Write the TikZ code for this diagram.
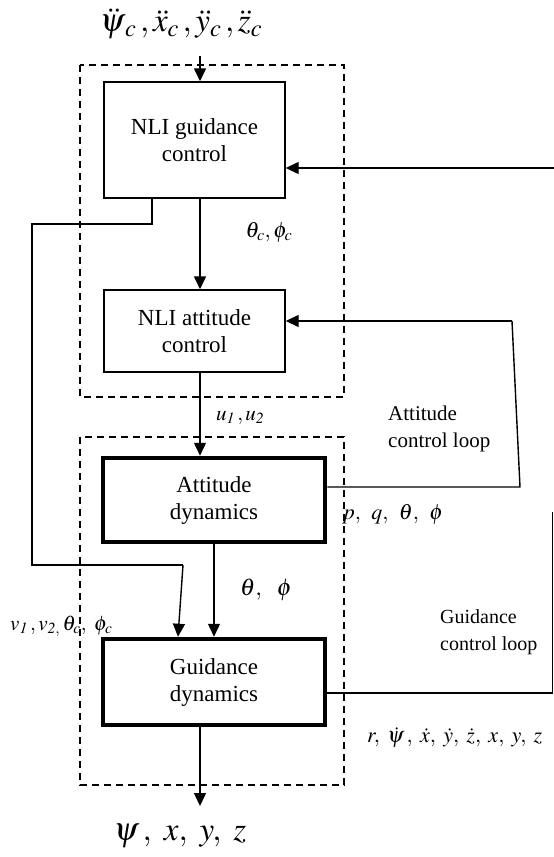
\documentclass[tikz,border=0pt]{standalone}
\usepackage{mathptmx}
\usepackage{fontspec}
\setmainfont{Liberation Serif}
\usetikzlibrary{arrows.meta,calc}
\begin{document}
\begin{tikzpicture}[x=1pt,y=-1pt,
  box/.style={draw,line width=1.4pt,align=center,font=\fontsize{23}{27}\selectfont},
  dynbox/.style={draw,line width=4.5pt,align=center,font=\fontsize{23}{27}\selectfont},
  grp/.style={draw,line width=1.3pt,dash pattern=on 7pt off 5pt},
  conn/.style={line width=1.4pt},
  arr/.style={line width=1.4pt,-{Triangle[length=13pt,width=12pt]}},
  lbl/.style={font=\fontsize{21}{27}\selectfont,inner sep=0pt},
  mlbl/.style={font=\fontsize{22}{26}\selectfont,inner sep=0pt},
  big/.style={font=\fontsize{33}{36}\selectfont,inner sep=0pt}]
\useasboundingbox (0,0) rectangle (554,857);
% group boxes
\draw[grp] (80,65) rectangle (344,397);
\draw[grp] (80,437) rectangle (344,785);
% blocks
\node[box,minimum width=181pt,minimum height=116pt] (ngc) at (194.5,140) {NLI guidance\\control};
\node[box,minimum width=181pt,minimum height=82pt] (nac) at (194.5,331) {NLI attitude\\control};
\node[dynbox,minimum width=222pt,minimum height=84pt] (ad) at (214,500) {Attitude\\dynamics};
\node[dynbox,minimum width=222pt,minimum height=86pt] (gd) at (214,682) {Guidance\\dynamics};
% external labels
\node[big] (inlbl) at (181,24) {$\ddot\psi_{\,c}\,,\ddot x_c\,,\ddot y_c\,,\ddot z_c$};
\node[big] (outlbl) at (180,836) {$\psi\,,\ x,\ y,\ z$};
\coordinate (intop) at (200,56);
\coordinate (outbot) at (200,806);
% forward arrows
\draw[arr] (intop) -- (intop |- ngc.north);
\draw[arr] (ngc.south -| intop) -- (nac.north -| intop);
\draw[arr] (nac.south -| intop) -- (ad.north -| intop);
\draw[arr] (ad.south) -- (gd.north);
\draw[arr] (gd.south -| outbot) -- (outbot);
% guidance command bypass
\coordinate (b0) at (152,198);
\coordinate (b1) at (183,565);
\draw[conn] (b0) -- (152,224) -- (32,224) -- (32,565) -- (b1);
\draw[arr] (b1) -- (gd.north -| 178,0);
% attitude loop
\coordinate (a1) at (520,487);
\coordinate (a2) at (512,321);
\draw[conn] (ad.east |- a1) -- (a1) -- (a2);
\draw[arr] (a2) -- (nac.east |- a2);
% guidance loop
\coordinate (g1) at (552.5,693);
\coordinate (g2) at (552.5,512);
\coordinate (g3) at (554,168);
\draw[conn] (gd.east |- g1) -- (g1) -- (g2);
\draw[arr] (g3) -- (ngc.east |- g3);
% labels
\node[mlbl] (l1) at (269,232) {$\theta_c,\phi_c$};
\node[lbl,anchor=west] (l2) at (216,418) {$u_{\mathit{1}}\,,u_{\mathit{2}}$};
\node[lbl,align=left,anchor=west] (l3) at (388,429) {Attitude\\control loop};
\node[mlbl,anchor=west] (l4) at (342,514) {$p,\ \,q,\ \,\theta,\ \,\phi$};
\node[font=\fontsize{24}{26}\selectfont,inner sep=0pt,anchor=west] (l5) at (240,590) {$\theta,\ \ \phi$};
\node[lbl,anchor=west] (l6) at (10,626) {$v_{\mathit{1}}\,,v_{\mathit{2},}\,\theta_c,\ \phi_c$};
\node[font=\fontsize{20}{27}\selectfont,inner sep=0pt,align=left,anchor=west] (l7) at (440,632) {Guidance\\control loop};
\node[mlbl,anchor=west] (l8) at (367,738) {$r,\;\dot\psi\,,\;\dot x,\;\dot y,\;\dot z,\;x,\;y,\;z$};
\end{tikzpicture}
\end{document}
